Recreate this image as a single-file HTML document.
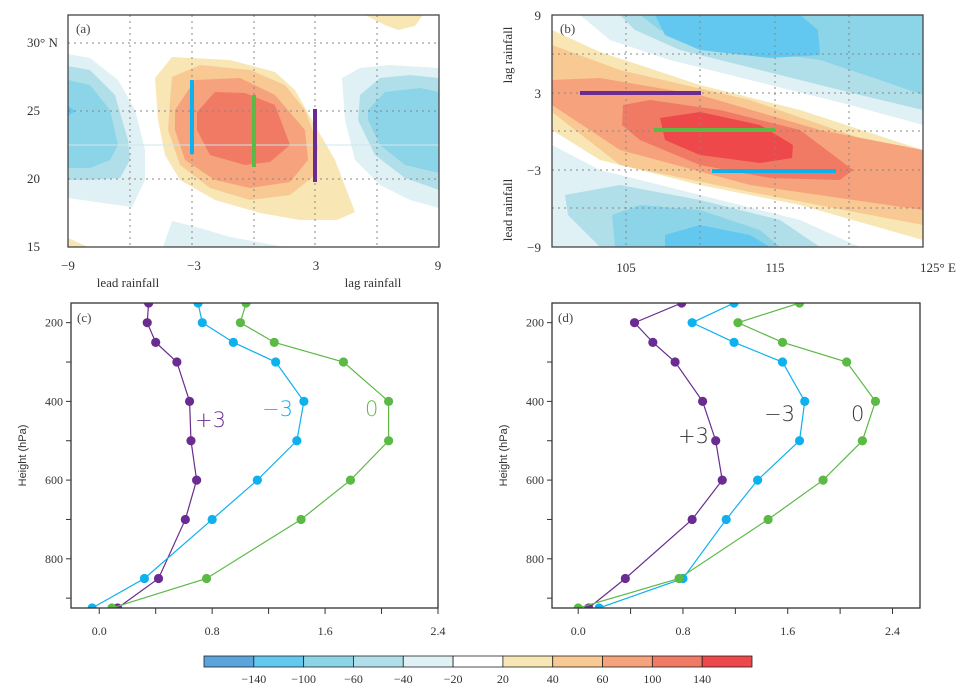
<!DOCTYPE html>
<html><head><meta charset="utf-8"><style>
body{margin:0;background:#fff;width:972px;height:693px;overflow:hidden}
svg{font-family:"Liberation Serif",serif}
</style></head><body>
<svg id="fig" width="972" height="693" viewBox="0 0 972 693" xmlns="http://www.w3.org/2000/svg">
<g id="pa">
<clipPath id="ca"><rect x="68" y="15" width="371" height="232"/></clipPath>
<g clip-path="url(#ca)">
<polygon fill="#dff1f4" points="68,54 90,58 118,80 135,110 145,150 145,180 132,207 68,198"/>
<polygon fill="#b0dfe9" points="68,66 90,70 115,95 128,140 130,160 120,178 90,180 68,180"/>
<polygon fill="#8cd4e8" points="68,80 90,85 110,110 118,145 110,160 90,168 68,168"/>
<polygon fill="#62c8f0" points="68,106 75,111 68,116"/>
<polygon fill="#dff1f4" points="342,78 360,68 390,65 439,68 439,208 410,200 380,185 355,160 345,120"/>
<polygon fill="#b0dfe9" points="360,95 380,78 410,75 439,78 439,190 405,178 375,155 358,120"/>
<polygon fill="#8cd4e8" points="368,110 385,92 420,88 439,92 439,173 405,165 380,145 368,120"/>
<polygon fill="#dff1f4" points="172,221 200,228 230,237 285,247 163,247"/>
<polygon fill="#f8e6b4" points="155,78 172,57 230,60 275,72 295,90 312,120 335,160 355,212 337,220 300,220 260,213 215,200 180,180 165,155 158,120"/>
<polygon fill="#f8e6b4" points="365,15 423,15 415,26 398,30 385,25"/>
<polygon fill="#f8e6b4" points="68,238 88,247 68,247"/>
<polygon fill="#f9c993" points="172,77 200,65 250,70 285,85 305,110 318,145 315,175 290,195 250,200 210,188 180,165 168,130 170,100"/>
<polygon fill="#f6a27c" points="175,110 195,80 240,78 275,95 305,130 308,160 290,182 250,188 215,180 185,160 175,130"/>
<polygon fill="#f07a63" points="197,112 215,92 245,93 275,105 290,145 270,162 245,165 210,155 197,130"/>
<line x1="68" y1="145" x2="439" y2="145" stroke="#cfe7ec" stroke-width="1"/>
</g>
<g stroke="#888" stroke-dasharray="2,4" stroke-width="1">
<line x1="130" y1="15" x2="130" y2="247"/><line x1="192" y1="15" x2="192" y2="247"/><line x1="254" y1="15" x2="254" y2="247"/><line x1="315" y1="15" x2="315" y2="247"/><line x1="377" y1="15" x2="377" y2="247"/>
<line x1="68" y1="43" x2="439" y2="43"/><line x1="68" y1="111" x2="439" y2="111"/><line x1="68" y1="179" x2="439" y2="179"/>
</g>
<rect x="190" y="80" width="4" height="74" fill="#0fb0ee"/>
<rect x="252" y="95" width="4" height="72" fill="#5cb946"/>
<rect x="313" y="109" width="4" height="73" fill="#6a2c91"/>
<rect x="68" y="15" width="371" height="232" fill="none" stroke="#444" stroke-width="1.3"/>
<text x="76" y="33" font-size="13" fill="#444">(a)</text>
<g font-size="13" fill="#333">
<text x="27" y="47">30° N</text><text x="27" y="115">25</text><text x="27" y="183">20</text><text x="27" y="251">15</text></g>
<g font-size="13" fill="#333" text-anchor="middle">
<text x="68" y="270">−9</text><text x="194" y="270">−3</text><text x="316" y="270">3</text><text x="438" y="270">9</text>
<text x="128" y="287">lead  rainfall</text><text x="373" y="287">lag  rainfall</text></g>
</g>

<g id="pb">
<clipPath id="cb"><rect x="552" y="15" width="371" height="232"/></clipPath>
<g clip-path="url(#cb)">
<polygon fill="#dff1f4" points="580,15 923,15 923,125 850,105 750,80 670,60 610,40"/>
<polygon fill="#b0dfe9" points="620,15 923,15 923,110 860,95 760,70 680,50 635,30"/>
<polygon fill="#8cd4e8" points="640,15 923,15 923,95 880,80 820,60 750,50 700,40 660,30"/>
<polygon fill="#62c8f0" points="655,15 800,15 818,30 820,55 770,58 700,50 665,35"/>
<polygon fill="#dff1f4" points="552,145 600,170 700,195 800,220 860,247 552,247"/>
<polygon fill="#b0dfe9" points="565,195 620,185 700,200 780,220 820,247 600,247 568,215"/>
<polygon fill="#8cd4e8" points="612,215 640,205 700,210 760,230 780,247 615,247"/>
<polygon fill="#62c8f0" points="665,235 700,225 750,235 770,247 665,247"/>
<polygon fill="#f8e6b4" points="552,30 600,52 700,85 800,110 923,150 923,240 800,205 700,185 600,160 552,130"/>
<polygon fill="#f9c993" points="552,45 620,70 750,100 923,160 923,225 750,192 620,165 552,112"/>
<polygon fill="#f6a27c" points="552,80 600,78 700,95 820,130 923,150 923,210 750,185 620,150 552,105"/>
<polygon fill="#f07a63" points="623,105 650,100 720,110 800,130 853,170 840,180 770,178 700,165 640,140 622,125"/>
<polygon fill="#ee484a" points="660,118 700,112 760,125 793,145 792,158 760,163 700,155 665,140"/>
</g>
<g stroke="#888" stroke-dasharray="2,4" stroke-width="1">
<line x1="626" y1="15" x2="626" y2="247"/><line x1="700" y1="15" x2="700" y2="247"/><line x1="775" y1="15" x2="775" y2="247"/><line x1="849" y1="15" x2="849" y2="247"/>
<line x1="552" y1="54" x2="923" y2="54"/><line x1="552" y1="93" x2="923" y2="93"/><line x1="552" y1="131" x2="923" y2="131"/><line x1="552" y1="170" x2="923" y2="170"/><line x1="552" y1="208" x2="923" y2="208"/>
</g>
<rect x="580" y="91" width="121" height="4" fill="#6a2c91"/>
<rect x="654" y="128" width="121" height="4" fill="#5cb946"/>
<rect x="712" y="169" width="124" height="4" fill="#0fb0ee"/>
<rect x="552" y="15" width="371" height="232" fill="none" stroke="#444" stroke-width="1.3"/>
<text x="560" y="33" font-size="13" fill="#444">(b)</text>
<g font-size="13" fill="#333" text-anchor="end">
<text x="541" y="20">9</text><text x="541" y="98">3</text><text x="541" y="175">−3</text><text x="541" y="252">−9</text></g>
<text transform="translate(512,55) rotate(-90)" font-size="13" fill="#333" text-anchor="middle">lag  rainfall</text>
<text transform="translate(512,210) rotate(-90)" font-size="13" fill="#333" text-anchor="middle">lead  rainfall</text>
<g font-size="13" fill="#333" text-anchor="middle">
<text x="626" y="272">105</text><text x="775" y="272">115</text><text x="938" y="272">125° E</text></g>
</g>
<g id="pc"></g>
<g id="pd"></g>
<g id="cbar"></g>
</svg>
<script>
const levels=[150,200,250,300,400,500,600,700,850,925];
const cPlus3=[0.35,0.34,0.40,0.55,0.64,0.65,0.69,0.61,0.42,0.13];
const cMinus3=[0.70,0.73,0.95,1.25,1.45,1.40,1.12,0.80,0.32,-0.05];
const cZero=[1.04,1.00,1.24,1.73,2.05,2.05,1.78,1.43,0.76,0.09];
const dPlus3=[0.79,0.43,0.57,0.74,0.95,1.05,1.10,0.87,0.36,0.08];
const dMinus3=[1.19,0.87,1.19,1.56,1.73,1.69,1.37,1.13,0.80,0.16];
const dZero=[1.69,1.22,1.56,2.05,2.27,2.17,1.87,1.45,0.77,0.00];
const xTicks=[0,0.8,1.6,2.4];
const xTickLabels=["0.0","0.8","1.6","2.4"];
const yTickLabels=[200,400,600,800];
const yMinor=[200,300,400,500,600,700,800,900];
const cbLevels=[-140,-100,-60,-40,-20,20,40,60,100,140];
const cbColors=["#5aa5dc","#62c8f0","#8cd4e8","#b0dfe9","#dff1f4","#ffffff","#f8e6b4","#f9c993","#f6a27c","#f07a63","#ee484a"];
const NS="http://www.w3.org/2000/svg";
function mk(p,t,a){const e=document.createElementNS(NS,t);for(const k in a)e.setAttribute(k,a[k]);p.appendChild(e);return e;}
const COL={p:"#6a2c91",b:"#0fb0ee",g:"#5cb946"};
function panel(gid,L,T,W,H,xmin,xmax,series,label,lbls,lblCol){
  const g=document.getElementById(gid);
  const xs=v=>L+(v-xmin)/(xmax-xmin)*W;
  const ys=p=>T+(p-150)/(925-150)*H;
  const clip=mk(g,'clipPath',{id:gid+'clip'});mk(clip,'rect',{x:L,y:T,width:W,height:H});
  const inner=mk(g,'g',{'clip-path':'url(#'+gid+'clip)'});
  series.forEach(s=>{
    const line=mk(inner,'polyline',{points:s.v.map((v,i)=>xs(v)+','+ys(levels[i])).join(' '),fill:'none',stroke:s.c,'stroke-width':1.2});
    
    
    s.v.forEach((v,i)=>{const c=mk(inner,'circle',{cx:xs(v),cy:ys(levels[i]),r:4.6,fill:s.c});
      
      });
  });
  mk(g,'rect',{x:L,y:T,width:W,height:H,fill:'none',stroke:'#333','stroke-width':1.3});
  mk(g,'text',{x:L+6,y:T+19,'font-size':13,fill:'#444'}).textContent=label;
  yMinor.forEach(p=>mk(g,'line',{x1:L-5,x2:L,y1:ys(p),y2:ys(p),stroke:'#333'}));
  yTickLabels.forEach(p=>{const t=mk(g,'text',{x:L-8,y:ys(p)+4,'font-size':12,fill:'#333','text-anchor':'end'});t.textContent=p;
    
    });
  for(let v=0;v<=2.41;v+=0.4)mk(g,'line',{x1:xs(v),x2:xs(v),y1:T+H,y2:T+H+6,stroke:'#333'});
  xTicks.forEach((v,i)=>{const t=mk(g,'text',{x:xs(v),y:T+H+27,'font-size':12,fill:'#333','text-anchor':'middle'});t.textContent=xTickLabels[i];
    
    });
  const yt=mk(g,'text',{transform:'translate('+(L-45)+','+(T+H/2)+') rotate(-90)','font-size':11,fill:'#333','text-anchor':'middle','font-family':'Liberation Sans, sans-serif'});
  yt.textContent='Height (hPa)';
  
  
  lbls.forEach((l,i)=>{const t=mk(g,'text',{x:l[1],y:l[2],'font-size':21,fill:lblCol[i],'font-family':'DejaVu Sans, sans-serif','font-weight':200});t.textContent=l[0];
    
    });
}
panel('pc',71,303,367,305,-0.2,2.4,[{v:cPlus3,c:COL.p,n:'plus3'},{v:cMinus3,c:COL.b,n:'minus3'},{v:cZero,c:COL.g,n:'zero'}],'(c)',
 [['+3',195,427],['−3',262,416],['0',365,416]],[COL.p,COL.b,COL.g]);
panel('pd',552,303,368,305,-0.2,2.61,[{v:dPlus3,c:COL.p,n:'plus3'},{v:dMinus3,c:COL.b,n:'minus3'},{v:dZero,c:COL.g,n:'zero'}],'(d)',
 [['+3',678,443],['−3',764,421],['0',851,421]],['#333','#333','#333']);
(function(){
  const g=document.getElementById('cbar');const L=204,R=752,w=(R-L)/cbColors.length;
  cbColors.forEach((c,i)=>{const r=mk(g,'rect',{x:L+i*w,y:656,width:w,height:11,fill:c,stroke:'#222','stroke-width':0.8});
    
    });
  cbLevels.forEach((v,i)=>{const t=mk(g,'text',{x:L+(i+1)*w,y:683,'font-size':12,fill:'#333','text-anchor':'middle'});t.textContent=v<0?'−'+(-v):v;
    
    });
})();
</script>
</body></html>
